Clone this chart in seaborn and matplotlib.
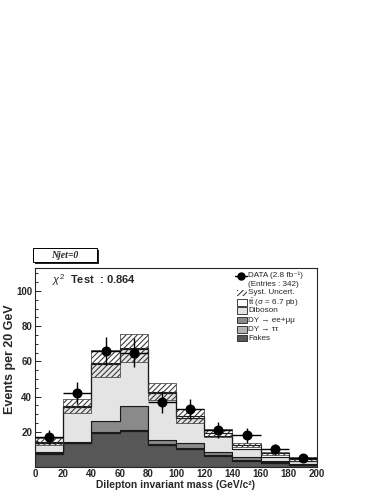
import numpy as np
import pandas as pd
import matplotlib
matplotlib.use("Agg")
import matplotlib.pyplot as plt
from matplotlib.patches import Rectangle
from matplotlib.lines import Line2D
from matplotlib.ticker import MultipleLocator
import seaborn as sns

# --- values (20 GeV bins) ---
bin_edges = [0, 20, 40, 60, 80, 100, 120, 140, 160, 180, 200]
bin_centers = [10, 30, 50, 70, 90, 110, 130, 150, 170, 190]

fakes = [7.2, 13.4, 19.5, 20.4, 12.5, 10.2, 6.2, 3.6, 2.5, 1.0]
dy_tautau = [0.6, 0.5, 0.5, 0.5, 0.5, 0.5, 0.4, 0.4, 0.3, 0.2]
dy_eemumu = [0.5, 0.5, 6.1, 13.8, 2.3, 2.7, 1.8, 1.8, 0.6, 0.5]
diboson = [5.3, 19.6, 32.3, 32.5, 26.5, 14.6, 9.3, 4.2, 2.4, 1.5]
ttbar = [0.8, 0.5, 0.5, 0.5, 1.0, 1.2, 1.8, 2.5, 2.0, 1.4]
syst_err = [1.9, 4.0, 7.6, 7.9, 4.8, 4.0, 2.2, 1.4, 1.0, 1.0]

data_events = [17, 42, 66, 65, 37, 33, 21, 18, 10, 5]
data_err = [4.1, 6.5, 8.1, 8.1, 6.1, 5.7, 4.6, 4.2, 3.2, 2.2]

# bottom -> top of the stack
process_names = ["Fakes", "DY \u2192 \u03c4\u03c4", "DY \u2192 ee+\u03bc\u03bc", "Diboson", "ttbar"]
process_values = [fakes, dy_tautau, dy_eemumu, diboson, ttbar]
process_colors = ["#575757", "#b4b4b4", "#8a8a8a", "#e4e4e4", "#ffffff"]

rows = []
for name, vals in zip(process_names, process_values):
    for c, v in zip(bin_centers, vals):
        rows.append({"mass": c, "events": v, "process": name})
df = pd.DataFrame(rows)

total_mc = np.sum(np.array(process_values), axis=0)

# --- style ---
sns.set_style("ticks")
plt.rcParams["font.family"] = ["Liberation Sans", "DejaVu Sans"]
plt.rcParams["mathtext.fontset"] = "custom"
plt.rcParams["mathtext.rm"] = "Liberation Sans"
plt.rcParams["mathtext.it"] = "Liberation Sans:italic"
plt.rcParams["mathtext.bf"] = "Liberation Sans:bold"
plt.rcParams["hatch.linewidth"] = 0.75

W, H = 380, 492
fig = plt.figure(figsize=(3.8, 4.92), dpi=100)
ax0, ay0, ax1, ay1 = 35, 268, 317, 467   # axes frame in pixels
ax = fig.add_axes([ax0 / W, 1 - ay1 / H, (ax1 - ax0) / W, (ay1 - ay0) / H])


def to_axes(px, py):
    return (px - ax0) / (ax1 - ax0), (ay1 - py) / (ay1 - ay0)


# stacked MC (seaborn puts the first hue level on top, so reverse)
sns.histplot(
    data=df, x="mass", weights="events", hue="process",
    hue_order=process_names[::-1], palette=dict(zip(process_names, process_colors)),
    bins=bin_edges, multiple="stack", element="step", fill=True,
    alpha=1, edgecolor="#1a1a1a", linewidth=0.8, legend=False, ax=ax,
)

# systematic band
ax.bar(bin_centers, 2 * np.array(syst_err), width=20, bottom=total_mc - np.array(syst_err),
       fill=False, hatch="//////", edgecolor="#333333", linewidth=0.5, zorder=3)

# data
ax.errorbar(bin_centers, data_events, yerr=data_err, xerr=10, fmt="o", color="black",
            markersize=6.2, elinewidth=1.0, capsize=0, zorder=4)

ax.set_xlim(0, 200)
ax.set_ylim(0, 113)
ax.set_yticks([20, 40, 60, 80, 100])
ax.xaxis.set_major_locator(MultipleLocator(20))
ax.xaxis.set_minor_locator(MultipleLocator(20 / 3))
ax.yaxis.set_minor_locator(MultipleLocator(5))
ax.tick_params(which="both", direction="in", width=0.7, labelsize=7)
ax.tick_params(which="major", length=4.5)
ax.tick_params(which="minor", length=2.2)
ax.tick_params(axis="x", pad=1.5)
ax.tick_params(axis="y", pad=2)
for lab in ax.get_xticklabels() + ax.get_yticklabels():
    lab.set_fontweight("bold")
for sp in ax.spines.values():
    sp.set_linewidth(0.8)

ax.set_xlabel("Dilepton invariant mass (GeV/c\u00b2)", fontsize=7.4,
              fontweight="bold", va="center")
ax.set_ylabel("Events per 20 GeV", fontsize=9, fontweight="bold")
ax.xaxis.set_label_coords(0.5, (ay1 - 485) / (ay1 - ay0))
ax.yaxis.set_label_coords((16 - ax0) / (ax1 - ax0), 0.54)

ax.text(*to_axes(52, 280), "$\\chi^{2}$  Test  : 0.864", transform=ax.transAxes,
        fontsize=8, fontweight="bold", va="center", ha="left")

# legend drawn by hand (no frame, ROOT style)
legend_rows = [275.7, 284.3, 293.0, 302.3, 310.7, 320.0, 329.3, 338.0]
text_x = 248.5
legend_labels = ["DATA (2.8 fb\u207b\u00b9)", "(Entries : 342)", "Syst. Uncert.",
                 "t$\\bar{\\rm t}$ (\u03c3 = 6.7 pb)", "Diboson",
                 "DY \u2192 ee+\u03bc\u03bc", "DY \u2192 \u03c4\u03c4", "Fakes"]
for py, lab in zip(legend_rows, legend_labels):
    ax.text(*to_axes(text_x, py), lab, transform=ax.transAxes, fontsize=5.9,
            va="center", ha="left")

x0, y0 = to_axes(235, legend_rows[0])
x1, _ = to_axes(247, legend_rows[0])
ax.add_line(Line2D([x0, x1], [y0, y0], color="black", lw=1.0, transform=ax.transAxes))
ax.add_line(Line2D([(x0 + x1) / 2], [y0], marker="o", color="black", markersize=5,
                   transform=ax.transAxes))

box_fc = {2: None, 3: "#ffffff", 4: "#e4e4e4", 5: "#8a8a8a", 6: "#b4b4b4", 7: "#575757"}
for i, fc in box_fc.items():
    bx, by = to_axes(237, legend_rows[i] + 3.3)
    bw = 10 / (ax1 - ax0)
    bh = 6.6 / (ay1 - ay0)
    if fc is None:
        ax.add_patch(Rectangle((bx, by), bw, bh, transform=ax.transAxes, fill=False,
                               hatch="//////", edgecolor="#333333", linewidth=0))
    else:
        ax.add_patch(Rectangle((bx, by), bw, bh, transform=ax.transAxes, facecolor=fc,
                               edgecolor="#222222", linewidth=0.6))

# "Njet=0" label box with shadow
bx0, by0, bx1, by1 = 33, 248, 97, 262
fig.patches.append(Rectangle(((bx0 + 2) / W, 1 - (by1 + 2) / H), (bx1 - bx0) / W, (by1 - by0) / H,
                             transform=fig.transFigure, facecolor="#222222", edgecolor="none"))
fig.patches.append(Rectangle((bx0 / W, 1 - by1 / H), (bx1 - bx0) / W, (by1 - by0) / H,
                             transform=fig.transFigure, facecolor="white", edgecolor="black",
                             linewidth=0.7))
fig.text((bx0 + bx1) / 2 / W, 1 - (by0 + by1) / 2 / H, "Njet=0", ha="center", va="center",
         fontsize=7, fontweight="bold", fontstyle="italic",
         family=["Liberation Serif", "DejaVu Serif"])

fig.savefig("out.png", dpi=100)
plt.close(fig)
